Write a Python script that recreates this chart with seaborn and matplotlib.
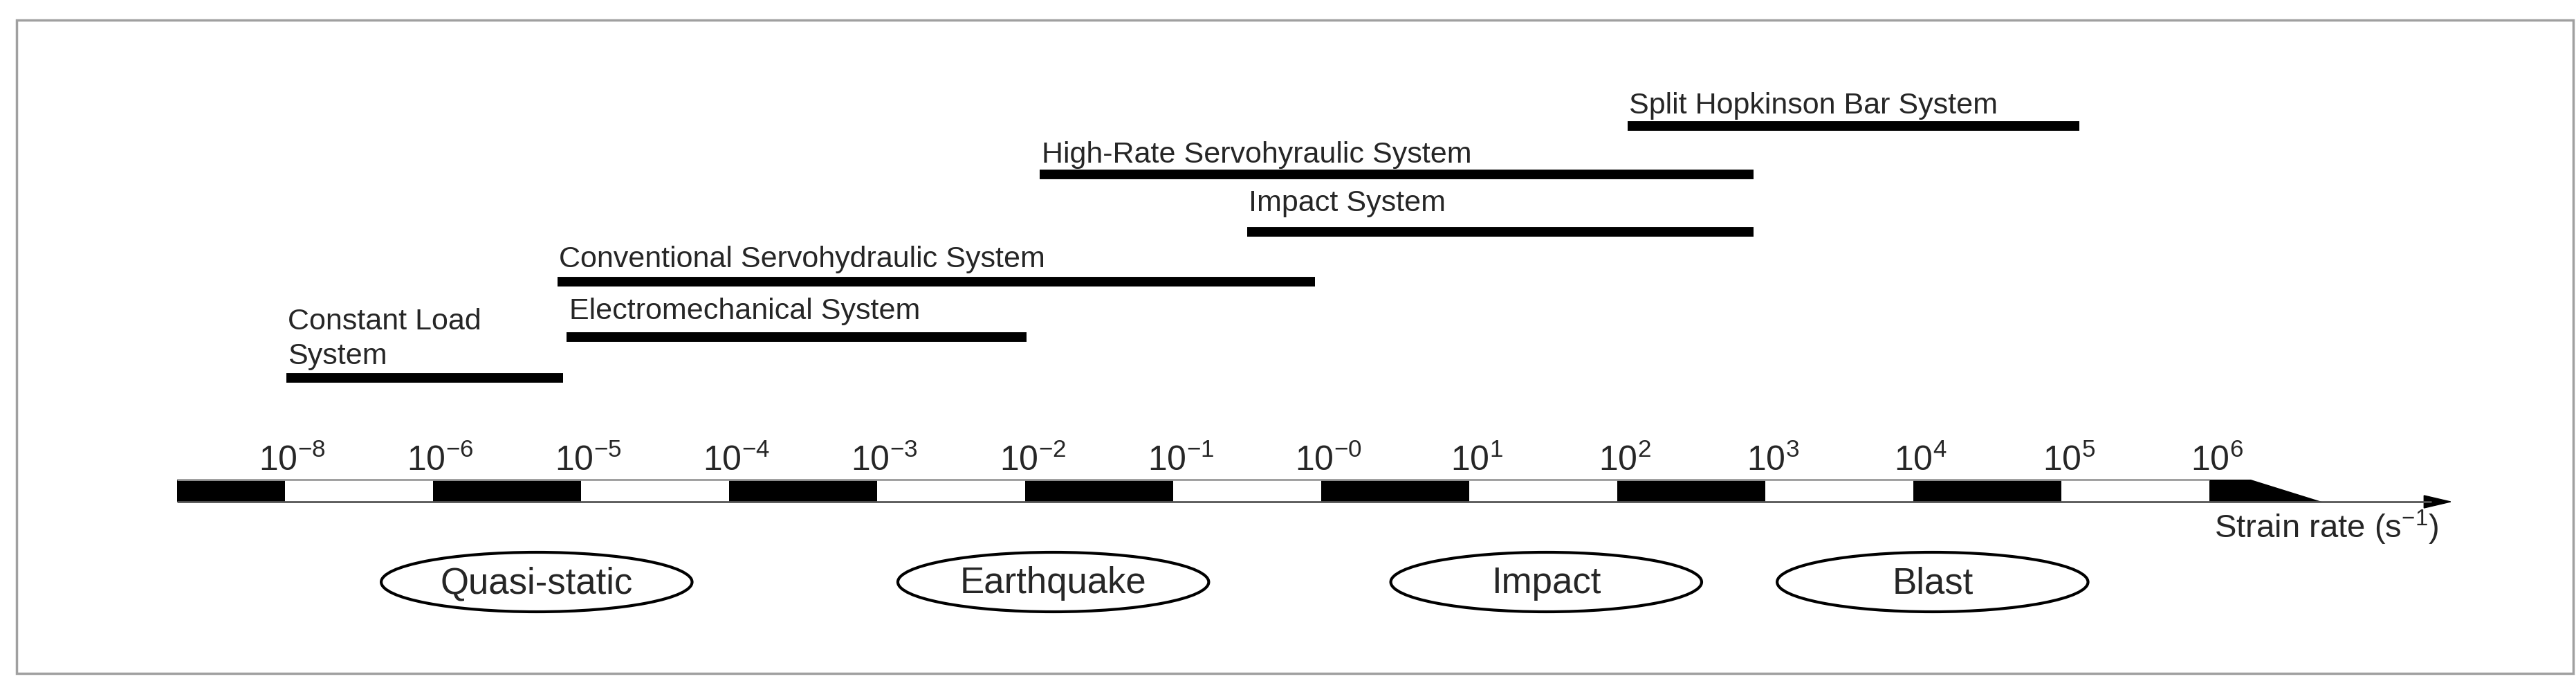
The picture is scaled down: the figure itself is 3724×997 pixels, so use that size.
import matplotlib
matplotlib.use("Agg")
import matplotlib.pyplot as plt
import seaborn as sns
from matplotlib.patches import Ellipse, Rectangle, Polygon, FancyArrow

sns.set_theme(style="white")
plt.rcParams['font.family'] = ['Liberation Sans', 'DejaVu Sans']

# ---- data (x in "decade-slot" units: slot k corresponds to tick_labels[k]) ----
tick_exps = ["-8", "-6", "-5", "-4", "-3", "-2", "-1", "-0", "1", "2", "3", "4", "5", "6"]
systems = ["Split Hopkinson Bar System", "High-Rate Servohyraulic System", "Impact System",
           "Conventional Servohydraulic System", "Electromechanical System", "Constant Load\nSystem"]
sys_start = [9.07, 5.10, 6.50, 1.84, 1.90, 0.01]
sys_end = [12.12, 9.92, 9.92, 6.96, 5.01, 1.88]
regimes = ["Quasi-static", "Earthquake", "Impact", "Blast"]
regime_center = [1.70, 5.19, 8.52, 11.13]

# layout (pixel rows)
bar_y = [182, 252, 335, 407, 487, 546]
text_y = [153, 224, 294, 375, 450, 490]

fig = plt.figure(figsize=(37.24, 9.97), dpi=100)
ax = fig.add_axes([0, 0, 1, 1])
x0, step = 412, 214
ax.set_xlim(-x0 / step, (3724 - x0) / step)
ax.set_ylim(997, 0)
ax.axis("off")

# frame
ax.add_patch(Rectangle(((24 - x0) / step, 29), (3720 - 24) / step, 944, fill=False,
                       edgecolor="#a0a0a0", lw=2.5))

# range bars
for name, s, e, by, ty in zip(systems, sys_start, sys_end, bar_y, text_y):
    ax.hlines(by, s, e, color="black", lw=10, capstyle="butt")
    va = "center"
    ax.text(s + 0.01 if "Electro" not in name else s + 0.02, ty, name, fontsize=31,
            ha="left", va=va, linespacing=1.35)

# scale bar
top, bot = 693, 725
ax.add_patch(Rectangle((-0.73, top), 0.73, bot - top, color="black", lw=0))
for k in range(1, 13, 2):
    ax.add_patch(Rectangle((k, top), 1, bot - top, color="black", lw=0))
ax.add_patch(Polygon([(13, top), (13.28, top), (13.76, bot), (13, bot)], closed=True,
                     color="black", lw=0))
ax.hlines(top, -0.73, 13, color="#999999", lw=2)
ax.hlines(bot, -0.73, 14.5, color="#555555", lw=2)
ax.add_patch(Polygon([(14.45, bot - 9), (14.63, bot), (14.45, bot + 9)], closed=True, color="black"))

for k, e in enumerate(tick_exps):
    ax.text(k + 0.05, 680, rf"$\mathregular{{10^{{{e}}}}}$", fontsize=36, ha="center", va="baseline")

ax.text((3526 - x0) / step, 762, r"Strain rate (s$\mathregular{^{-1}}$)", fontsize=34,
        ha="right", va="center")

for name, c in zip(regimes, regime_center):
    ax.add_patch(Ellipse((c, 841), 2.1, 86, fill=False, edgecolor="black", lw=3))
    ax.text(c, 843, name, fontsize=38, ha="center", va="center")

fig.savefig("out.png", dpi=100, facecolor="white")
